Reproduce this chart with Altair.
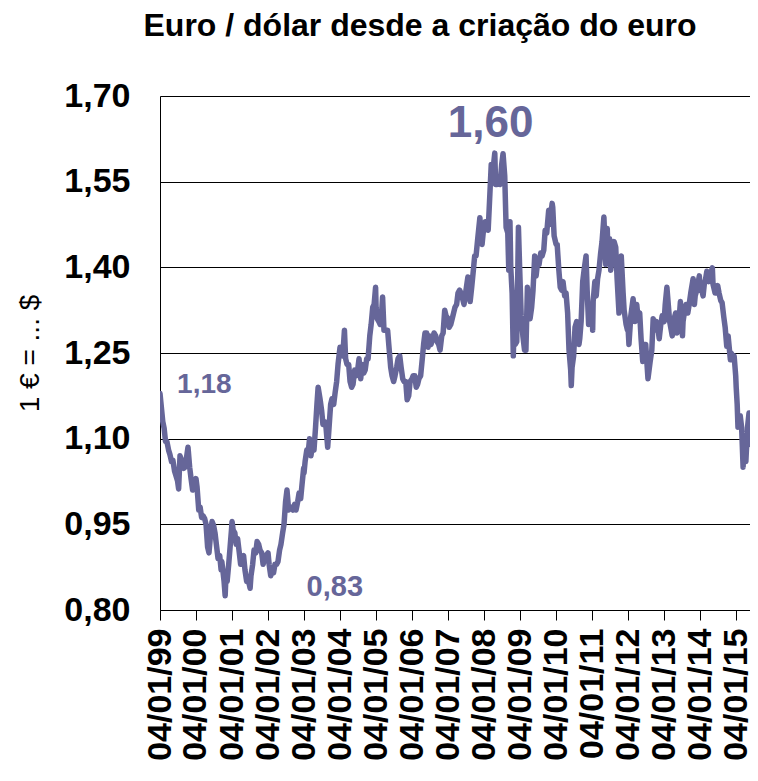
import altair as alt
import pandas as pd

# EUR/USD readings (date, rate)
dates = [
 "1999-01-04","1999-01-15","1999-02-01","1999-02-15","1999-03-01","1999-03-15","1999-04-01","1999-04-15","1999-05-01","1999-05-15","1999-06-01","1999-06-15","1999-07-01","1999-07-12","1999-07-26","1999-08-15","1999-09-01","1999-09-15","1999-10-01","1999-10-15","1999-11-01","1999-11-15","1999-12-01","1999-12-15",
 "2000-01-04","2000-01-15","2000-02-01","2000-02-15","2000-03-01","2000-03-15","2000-04-01","2000-04-15","2000-05-01","2000-05-15","2000-06-01","2000-06-15","2000-07-01","2000-07-15","2000-08-01","2000-08-15","2000-09-01","2000-09-15","2000-09-22","2000-10-01","2000-10-15","2000-10-26","2000-11-01","2000-11-15","2000-12-01","2000-12-15","2000-12-29",
 "2001-01-04","2001-01-15","2001-02-01","2001-02-15","2001-03-01","2001-03-15","2001-04-01","2001-04-15","2001-05-01","2001-05-15","2001-06-01","2001-06-15","2001-07-06","2001-07-15","2001-08-01","2001-08-15","2001-09-01","2001-09-15","2001-10-01","2001-10-15","2001-11-01","2001-11-15","2001-12-01","2001-12-15",
 "2002-01-04","2002-01-15","2002-01-31","2002-02-15","2002-03-01","2002-03-15","2002-04-01","2002-04-15","2002-05-01","2002-05-15","2002-06-01","2002-06-15","2002-07-01","2002-07-15","2002-08-01","2002-08-15","2002-09-01","2002-09-15","2002-10-01","2002-10-15","2002-11-01","2002-11-15","2002-12-01","2002-12-15","2002-12-31",
 "2003-01-04","2003-01-15","2003-02-01","2003-02-15","2003-03-01","2003-03-15","2003-04-01","2003-04-15","2003-05-01","2003-05-15","2003-05-27","2003-06-15","2003-07-01","2003-07-15","2003-08-01","2003-08-15","2003-09-01","2003-09-15","2003-10-01","2003-10-15","2003-11-01","2003-11-15","2003-12-01","2003-12-15",
 "2004-01-04","2004-01-15","2004-02-01","2004-02-18","2004-03-01","2004-03-15","2004-04-01","2004-04-15","2004-05-01","2004-05-15","2004-06-01","2004-06-15","2004-07-01","2004-07-15","2004-08-01","2004-08-15","2004-09-01","2004-09-15","2004-10-01","2004-10-15","2004-11-01","2004-11-15","2004-12-01","2004-12-15","2004-12-30",
 "2005-01-04","2005-01-15","2005-02-01","2005-02-15","2005-03-01","2005-03-11","2005-03-25","2005-04-15","2005-05-01","2005-05-15","2005-06-01","2005-06-15","2005-07-01","2005-07-15","2005-08-01","2005-08-15","2005-09-01","2005-09-15","2005-10-01","2005-10-15","2005-11-01","2005-11-15","2005-12-01","2005-12-15",
 "2006-01-04","2006-01-15","2006-02-01","2006-02-15","2006-03-01","2006-03-15","2006-04-01","2006-04-15","2006-05-01","2006-05-15","2006-06-01","2006-06-15","2006-07-01","2006-07-15","2006-08-01","2006-08-15","2006-09-01","2006-09-15","2006-10-01","2006-10-15","2006-11-01","2006-11-15","2006-12-01","2006-12-15",
 "2007-01-04","2007-01-15","2007-02-01","2007-02-15","2007-03-01","2007-03-15","2007-04-01","2007-04-15","2007-05-01","2007-05-15","2007-06-01","2007-06-15","2007-07-01","2007-07-24","2007-08-16","2007-09-01","2007-09-15","2007-10-01","2007-10-15","2007-11-01","2007-11-23","2007-12-01","2007-12-15",
 "2008-01-04","2008-01-15","2008-02-01","2008-02-15","2008-03-01","2008-03-17","2008-04-01","2008-04-22","2008-05-01","2008-05-15","2008-06-01","2008-06-15","2008-07-01","2008-07-15","2008-08-01","2008-08-15","2008-09-01","2008-09-11","2008-09-23","2008-10-01","2008-10-15","2008-10-27","2008-11-04","2008-11-15","2008-12-01","2008-12-18","2008-12-31",
 "2009-01-15","2009-02-01","2009-02-18","2009-03-04","2009-03-19","2009-04-01","2009-04-15","2009-05-01","2009-05-15","2009-06-01","2009-06-15","2009-07-01","2009-07-15","2009-08-01","2009-08-15","2009-09-01","2009-09-15","2009-10-01","2009-10-21","2009-11-01","2009-11-25","2009-12-01","2009-12-15",
 "2010-01-04","2010-01-15","2010-02-01","2010-02-15","2010-03-01","2010-03-15","2010-04-01","2010-04-15","2010-05-01","2010-05-15","2010-06-01","2010-06-07","2010-06-15","2010-07-01","2010-07-15","2010-08-01","2010-08-24","2010-09-01","2010-09-15","2010-10-01","2010-10-15","2010-11-04","2010-11-15","2010-11-30","2010-12-15",
 "2011-01-04","2011-01-10","2011-01-15","2011-02-01","2011-02-15","2011-03-01","2011-03-15","2011-04-01","2011-04-15","2011-05-04","2011-05-23","2011-06-07","2011-06-15","2011-07-01","2011-07-12","2011-08-01","2011-08-15","2011-09-01","2011-09-15","2011-10-04","2011-10-27","2011-11-15","2011-11-25","2011-12-15","2011-12-29",
 "2012-01-04","2012-01-13","2012-02-01","2012-02-24","2012-03-15","2012-04-01","2012-04-15","2012-05-01","2012-05-15","2012-06-01","2012-06-15","2012-07-01","2012-07-24","2012-08-15","2012-09-01","2012-09-15","2012-10-01","2012-10-15","2012-11-01","2012-11-15","2012-12-01","2012-12-15",
 "2013-01-04","2013-01-15","2013-02-01","2013-02-15","2013-03-01","2013-03-27","2013-04-15","2013-05-01","2013-05-15","2013-06-01","2013-06-18","2013-07-09","2013-07-15","2013-08-01","2013-08-15","2013-09-01","2013-09-15","2013-10-01","2013-10-25","2013-11-07","2013-11-15","2013-12-01","2013-12-27",
 "2014-01-04","2014-01-15","2014-02-03","2014-02-15","2014-03-01","2014-03-13","2014-04-01","2014-04-15","2014-05-08","2014-05-15","2014-06-05","2014-06-15","2014-07-01","2014-07-15","2014-08-01","2014-08-15","2014-09-01","2014-09-15","2014-10-01","2014-10-15","2014-11-07","2014-11-15","2014-12-01","2014-12-15","2014-12-31",
 "2015-01-05","2015-01-15","2015-01-23","2015-02-01","2015-02-15","2015-03-01","2015-03-16","2015-03-26","2015-04-13","2015-04-30","2015-05-15","2015-05-27","2015-06-15","2015-06-30","2015-07-10","2015-07-20",
]
rates = [
 1.179,1.160,1.130,1.118,1.095,1.095,1.080,1.072,1.060,1.062,1.043,1.035,1.026,1.012,1.070,1.060,1.048,1.050,1.068,1.085,1.050,1.030,1.010,1.012,
 1.030,1.015,0.975,0.980,0.962,0.965,0.960,0.950,0.910,0.900,0.935,0.955,0.948,0.935,0.910,0.890,0.895,0.870,0.885,0.872,0.850,0.825,0.850,0.850,0.880,0.910,0.940,
 0.955,0.940,0.935,0.915,0.925,0.905,0.880,0.890,0.895,0.870,0.850,0.855,0.838,0.860,0.880,0.905,0.900,0.920,0.915,0.905,0.900,0.880,0.890,0.895,
 0.900,0.880,0.860,0.870,0.865,0.880,0.880,0.885,0.905,0.915,0.935,0.950,0.990,1.010,0.975,0.980,0.980,0.975,0.985,0.975,0.990,1.005,0.995,1.020,1.048,
 1.040,1.060,1.080,1.075,1.100,1.070,1.090,1.080,1.120,1.160,1.190,1.170,1.150,1.125,1.130,1.120,1.085,1.120,1.160,1.170,1.160,1.180,1.200,1.230,
 1.260,1.260,1.245,1.290,1.240,1.230,1.230,1.200,1.190,1.195,1.220,1.210,1.220,1.240,1.205,1.230,1.215,1.220,1.240,1.240,1.280,1.300,1.330,1.335,1.365,
 1.330,1.310,1.305,1.300,1.320,1.348,1.290,1.290,1.290,1.260,1.225,1.210,1.200,1.210,1.225,1.240,1.245,1.225,1.205,1.200,1.200,1.168,1.175,1.200,
 1.205,1.210,1.210,1.190,1.195,1.205,1.210,1.235,1.265,1.285,1.285,1.260,1.280,1.265,1.275,1.285,1.280,1.270,1.265,1.255,1.280,1.285,1.325,1.315,
 1.310,1.295,1.300,1.310,1.320,1.330,1.335,1.355,1.360,1.355,1.345,1.335,1.355,1.383,1.340,1.365,1.390,1.420,1.420,1.450,1.487,1.465,1.440,
 1.475,1.480,1.480,1.465,1.520,1.580,1.565,1.600,1.545,1.545,1.555,1.545,1.580,1.599,1.560,1.470,1.460,1.395,1.480,1.400,1.355,1.245,1.300,1.265,1.270,1.470,1.395,
 1.315,1.280,1.255,1.255,1.365,1.330,1.310,1.330,1.360,1.420,1.385,1.410,1.405,1.425,1.420,1.430,1.465,1.460,1.500,1.475,1.512,1.505,1.455,
 1.440,1.440,1.395,1.365,1.360,1.375,1.350,1.355,1.320,1.255,1.220,1.193,1.225,1.245,1.295,1.305,1.265,1.275,1.305,1.375,1.395,1.420,1.360,1.300,1.335,
 1.330,1.290,1.340,1.375,1.350,1.380,1.395,1.425,1.445,1.488,1.405,1.468,1.420,1.450,1.395,1.430,1.445,1.435,1.380,1.320,1.420,1.355,1.325,1.300,1.290,
 1.295,1.265,1.315,1.345,1.305,1.335,1.310,1.320,1.275,1.235,1.265,1.265,1.205,1.235,1.255,1.310,1.290,1.305,1.295,1.275,1.300,1.315,
 1.305,1.335,1.365,1.335,1.305,1.280,1.310,1.320,1.285,1.300,1.340,1.280,1.305,1.325,1.335,1.320,1.335,1.355,1.380,1.335,1.350,1.360,1.385,
 1.360,1.365,1.350,1.370,1.380,1.393,1.375,1.385,1.399,1.370,1.355,1.355,1.368,1.355,1.342,1.338,1.313,1.295,1.262,1.280,1.238,1.250,1.245,1.245,1.210,
 1.190,1.160,1.120,1.135,1.140,1.120,1.050,1.095,1.060,1.120,1.145,1.090,1.125,1.115,1.105,1.090,
]

# annotation texts and anchor points (date, rate)
note_texts = ["1,60", "1,18", "0,83"]
note_dates = ["2008-03-10", "2000-03-29", "2003-11-12"]
note_rates = [1.628, 1.180, 0.8245]
note_sizes = [44, 28, 29]

tick_years = list(range(1999, 2016))

FONT = "Liberation Sans"
COLOR = "#666699"

df = pd.DataFrame({"date": dates, "rate": rates})
notes = pd.DataFrame({"label": note_texts, "date": note_dates, "rate": note_rates, "size": note_sizes})

x_scale = alt.Scale(
    type="utc",
    domain=[alt.DateTime(year=1999, month=1, date=4, utc=True),
            alt.DateTime(year=2015, month=5, date=25, utc=True)],
)
y_scale = alt.Scale(domain=[0.80, 1.70], nice=False, zero=False)

x_axis = alt.Axis(
    values=[alt.DateTime(year=y, month=1, date=4, utc=True) for y in tick_years],
    labelExpr="utcFormat(datum.value, '%d/%m/%y')",
    labelAngle=270, labelFont=FONT, labelFontSize=34, labelFontWeight="bold",
    labelColor="black", labelPadding=8, labelOverlap=False, labelBound=False,
    tickSize=10, tickColor="black", domainColor="black", grid=False, title=None,
)
y_axis = alt.Axis(
    values=[0.80, 0.95, 1.10, 1.25, 1.40, 1.55, 1.70],
    labelExpr="replace(format(datum.value, '.2f'), '.', ',')",
    labelFont=FONT, labelFontSize=34, labelFontWeight="bold", labelColor="black",
    labelPadding=30, tickSize=0, domainColor="black",
    grid=True, gridColor="black", gridWidth=1, gridOpacity=1,
    title="1 € = ... $", titleFont=FONT, titleFontSize=28, titleFontWeight="normal",
    titleColor="black", titlePadding=19,
)

line = alt.Chart(df).mark_line(
    color=COLOR, strokeWidth=5.5, strokeJoin="round", strokeCap="round", clip=True
).encode(
    x=alt.X("date:T", scale=x_scale, axis=x_axis),
    y=alt.Y("rate:Q", scale=y_scale, axis=y_axis),
)

text = alt.Chart(notes).mark_text(
    font=FONT, fontWeight="bold", color=COLOR, align="center", baseline="alphabetic"
).encode(
    x=alt.X("date:T", scale=x_scale, axis=x_axis),
    y=alt.Y("rate:Q", scale=y_scale, axis=y_axis),
    text="label:N",
    size=alt.Size("size:Q", scale=None, legend=None),
)

chart = alt.layer(line, text).properties(
    width=590, height=514,
    autosize=alt.AutoSizeParams(type="none"),
    padding={"left": 152, "top": 88, "right": 0, "bottom": 160},
    title=alt.TitleParams(
        "Euro / dólar desde a criação do euro",
        font=FONT, fontSize=32, fontWeight="bold", color="black",
        anchor="middle", dx=-35, offset=36,
    ),
).configure_view(strokeWidth=0).configure(background="white")

chart.save("out.html", embed_options={"renderer": "svg", "actions": False})
